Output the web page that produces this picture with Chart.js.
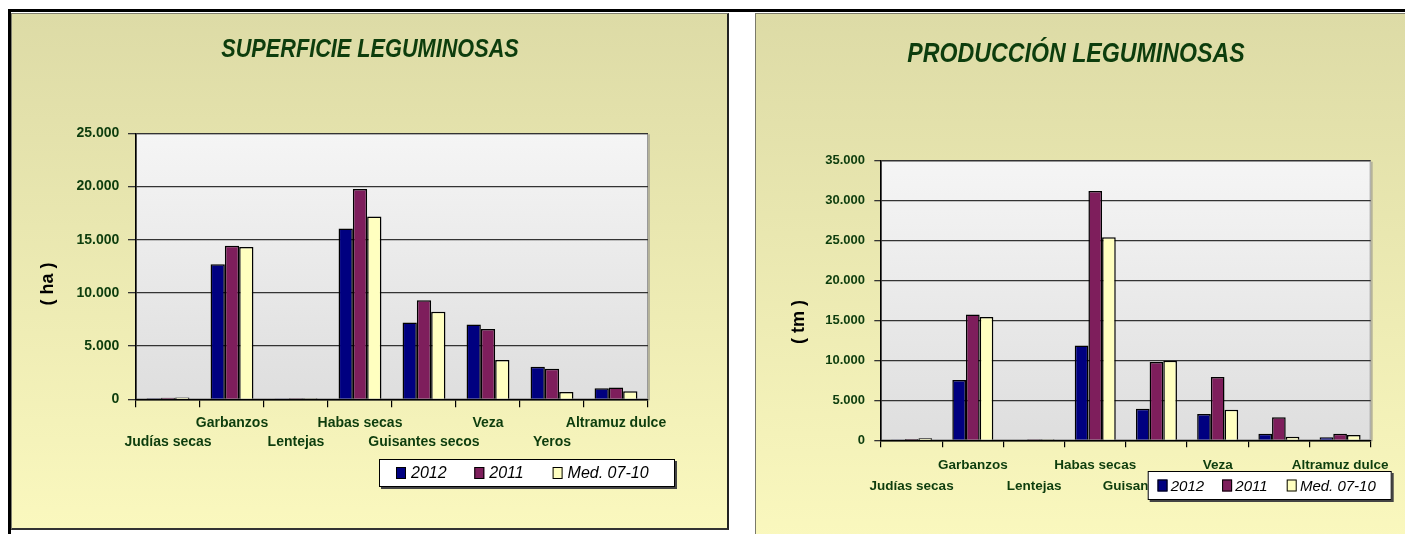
<!DOCTYPE html>
<html>
<head>
<meta charset="utf-8">
<script src="https://cdn.jsdelivr.net/npm/chart.js@4.4.1/dist/chart.umd.min.js"></script>
<style>
  body { margin: 0; width: 1405px; height: 534px; overflow: hidden; position: relative; background: #fff; }
  #topline { position: absolute; left: 8px; top: 9px; width: 1397px; height: 3px; background: #000; }
  #leftline { position: absolute; left: 8px; top: 9px; width: 3px; height: 525px; background: #000; }
  .panel { position: absolute; box-sizing: border-box; background: linear-gradient(#dddba6, #faf8be); }
  #p1 { left: 11px; top: 13px; width: 718px; height: 517px; border: 1px solid #808070; border-right: 2px solid #222; border-bottom: 2px solid #333; }
  #p2 { left: 755px; top: 13px; width: 660px; height: 530px; border: 1px solid #7a7a6a; }
  canvas { position: absolute; }
  #c1 { left: 12px; top: 14px; }
  #c2 { left: 756px; top: 14px; }
</style>
</head>
<body>
<div id="topline"></div>
<div id="leftline"></div>
<div class="panel" id="p1"></div>
<div class="panel" id="p2"></div>
<canvas id="c1" width="716" height="515"></canvas>
<canvas id="c2" width="649" height="520"></canvas>
<script>
// categories and series
var categories = ['Judías secas', 'Garbanzos', 'Lentejas', 'Habas secas', 'Guisantes secos', 'Veza', 'Yeros', 'Altramuz dulce'];
var seriesNames = ['2012', '2011', 'Med. 07-10'];
var seriesColors = ['#000080', '#7e1e5c', '#ffffc0'];

// superficie (ha)
var superficie2012 = [100, 12700, 70, 16050, 7220, 7030, 3060, 1030];
var superficie2011 = [150, 14420, 110, 19770, 9310, 6600, 2870, 1120];
var superficieMed = [180, 14320, 110, 17190, 8220, 3690, 690, 750];
var superficieTicks = [0, 5000, 10000, 15000, 20000, 25000];

// produccion (tm)
var produccion2012 = [100, 7540, 80, 11880, 3950, 3290, 830, 380];
var produccion2011 = [150, 15750, 120, 31200, 9790, 7910, 2870, 830];
var produccionMed = [250, 15450, 120, 25410, 9950, 3830, 450, 660];
var produccionTicks = [0, 5000, 10000, 15000, 20000, 25000, 30000, 35000];

var GREEN = '#0d3d0d';
var SANS = '"Liberation Sans", Arial, sans-serif';

function fmt(v) {
    return String(v).replace(/\B(?=(\d{3})+(?!\d))/g, '.');
}

var plotBg = {
    id: 'plotBg',
    beforeDraw: function(chart) {
        var ctx = chart.ctx, a = chart.chartArea;
        var g = ctx.createLinearGradient(0, a.top, 0, a.bottom);
        g.addColorStop(0, '#f5f5f5');
        g.addColorStop(1, '#dedede');
        ctx.save();
        ctx.fillStyle = '#b5b39a';
        ctx.fillRect(a.right, a.top + 1, 2, a.bottom - a.top);
        ctx.fillStyle = g;
        ctx.fillRect(a.left, a.top, a.right - a.left, a.bottom - a.top);
        ctx.strokeStyle = '#999';
        ctx.lineWidth = 1;
        ctx.strokeRect(a.left + 0.5, a.top + 0.5, a.right - a.left - 1, a.bottom - a.top - 1);
        ctx.restore();
    }
};

// heading, unit caption and the boxed legend
var decor = {
    id: 'decor',
    afterDraw: function(chart, args, o) {
        var ctx = chart.ctx;
        ctx.save();
        ctx.textAlign = 'center';
        ctx.textBaseline = 'middle';

        // condensed heading (narrow face is not installed, so squeeze it)
        ctx.save();
        ctx.translate(o.titleX, o.titleY);
        ctx.scale(o.titleSqueeze, 1);
        ctx.fillStyle = GREEN;
        ctx.font = 'italic bold ' + o.titleSize + 'px ' + SANS;
        ctx.fillText(o.title, 0, 0);
        ctx.restore();

        ctx.save();
        ctx.translate(o.unitX, o.unitY);
        ctx.rotate(-Math.PI / 2);
        ctx.fillStyle = '#000';
        ctx.font = 'bold ' + o.unitSize + 'px ' + SANS;
        ctx.fillText(o.unit, 0, 0);
        ctx.restore();

        var b = o.legend;
        ctx.fillStyle = '#444';
        ctx.fillRect(b.x + 2, b.y + 2, b.w, b.h);
        ctx.fillStyle = '#fff';
        ctx.fillRect(b.x, b.y, b.w, b.h);
        ctx.strokeStyle = '#000';
        ctx.lineWidth = 1;
        ctx.strokeRect(b.x + 0.5, b.y + 0.5, b.w - 1, b.h - 1);
        var cy = b.y + b.h / 2;
        ctx.font = 'italic ' + b.size + 'px ' + SANS;
        ctx.textAlign = 'left';
        chart.data.datasets.forEach(function(ds, i) {
            var sx = b.x + b.first + i * b.step;
            ctx.fillStyle = ds.backgroundColor;
            ctx.fillRect(sx, cy - 6, 10, 12);
            ctx.strokeStyle = '#000';
            ctx.strokeRect(sx + 0.5, cy - 5.5, 9, 11);
            ctx.fillStyle = '#000';
            ctx.fillText(ds.label, sx + b.gap, cy + 1);
        });
        ctx.restore();
    }
};

function buildChart(id, series, ticks, cfg) {
    var canvas = document.getElementById(id);
    return new Chart(canvas.getContext('2d'), {
        type: 'bar',
        data: {
            labels: categories,
            datasets: series.map(function(vals, i) {
                return {
                    label: seriesNames[i],
                    data: vals,
                    backgroundColor: seriesColors[i],
                    borderColor: '#000',
                    borderWidth: 1.5,
                    categoryPercentage: 0.67,
                    barPercentage: 1
                };
            })
        },
        options: {
            responsive: false,
            maintainAspectRatio: false,
            animation: false,
            layout: {
                padding: {
                    left: 0,
                    top: cfg.top,
                    right: canvas.width - cfg.right,
                    bottom: canvas.height - cfg.bottom - cfg.xHeight
                }
            },
            plugins: {
                legend: { display: false },
                tooltip: { enabled: false },
                decor: cfg.decor
            },
            scales: {
                x: {
                    grid: { offset: true, drawOnChartArea: false, drawTicks: true, tickLength: cfg.xTick, color: '#000', lineWidth: 1.2 },
                    border: { color: '#000', width: 1.5 },
                    ticks: {
                        autoSkip: false, maxRotation: 0, minRotation: 0,
                        padding: cfg.xPad,
                        color: GREEN,
                        font: { family: SANS, size: cfg.xSize, weight: 'bold', lineHeight: cfg.xLine },
                        callback: function(v, i) {
                            return i % 2 ? [categories[i], ''] : ['', categories[i]];
                        }
                    },
                    afterFit: function(s) { s.height = cfg.xHeight; }
                },
                y: {
                    min: ticks[0],
                    max: ticks[ticks.length - 1],
                    ticks: {
                        stepSize: ticks[1] - ticks[0],
                        padding: cfg.yPad,
                        color: GREEN,
                        font: { family: SANS, size: cfg.ySize, weight: 'bold' },
                        callback: function(v) { return fmt(v); }
                    },
                    grid: { color: '#333', lineWidth: 1.3, drawTicks: true, tickLength: cfg.yTick },
                    border: { color: '#000', width: 1.5 },
                    afterFit: function(s) { s.width = cfg.left; }
                }
            }
        },
        plugins: [plotBg, decor]
    });
}

buildChart('c1', [superficie2012, superficie2011, superficieMed], superficieTicks, {
    left: 124, right: 636, top: 119.3, bottom: 385.3, xHeight: 80,
    xTick: 8, xPad: 6.8, xSize: 14, xLine: 1.314,
    yTick: 8, yPad: 8.7, ySize: 14,
    decor: {
        title: 'SUPERFICIE LEGUMINOSAS', titleX: 358, titleY: 36, titleSize: 26, titleSqueeze: 0.834,
        unit: '( ha )', unitX: 36.5, unitY: 270, unitSize: 18,
        legend: { x: 367, y: 445, w: 296, h: 28, first: 17, step: 78.3, gap: 15, size: 16 }
    }
});

buildChart('c2', [produccion2012, produccion2011, produccionMed], produccionTicks, {
    left: 125, right: 614.7, top: 146.7, bottom: 426.3, xHeight: 70,
    xTick: 7, xPad: 7.9, xSize: 13.5, xLine: 1.556,
    yTick: 6.7, yPad: 9.3, ySize: 13,
    decor: {
        title: 'PRODUCCIÓN LEGUMINOSAS', titleX: 320, titleY: 40.5, titleSize: 28, titleSqueeze: 0.828,
        unit: '( tm )', unitX: 43, unitY: 308, unitSize: 18,
        legend: { x: 391.7, y: 457, w: 244, h: 29, first: 9.8, step: 64.6, gap: 13.2, size: 15 }
    }
});
</script>
</body>
</html>
